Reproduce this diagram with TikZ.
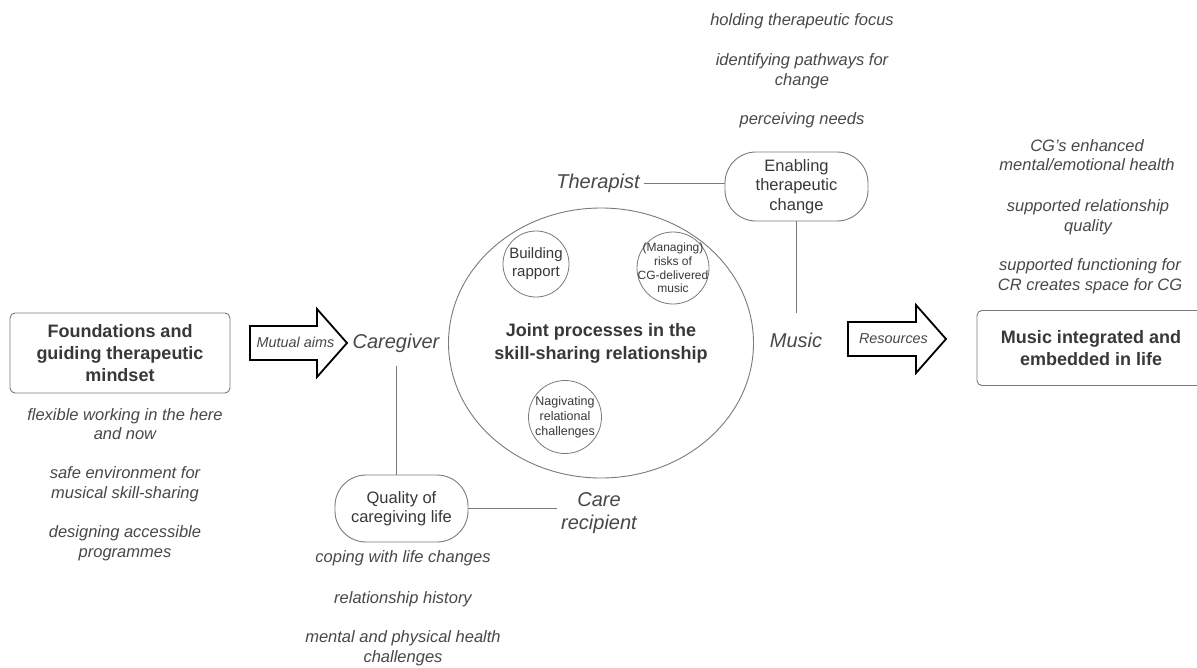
\documentclass[tikz,border=0pt]{standalone}
\usepackage{fontspec}
\setmainfont{Liberation Sans}
\usetikzlibrary{shapes.geometric}
\definecolor{txt}{HTML}{383838}
\definecolor{itx}{HTML}{484848}
\definecolor{ln}{HTML}{7A7A7A}
\begin{document}
\begin{tikzpicture}[x=1pt,y=-1pt,
 itxt/.style={font=\fontsize{16.5}{19.5}\selectfont\itshape, text=itx, align=center, inner sep=2pt},
 role/.style={font=\fontsize{20}{23.5}\selectfont\itshape, text=itx, align=center, inner sep=4pt},
 mainbox/.style={draw=ln, rounded corners=5pt, font=\fontsize{18}{22}\selectfont\bfseries, text=txt, align=center, line width=0.9pt},
 pill/.style={draw=ln, rounded corners=31pt, font=\fontsize{16.5}{19.5}\selectfont, text=txt, align=center, line width=0.9pt},
 sub/.style={draw=ln, circle, inner sep=0pt, line width=0.8pt},
 subtxt/.style={text=txt, align=center, inner sep=0pt},
 link/.style={draw=ln, line width=0.9pt},
 fat/.style={draw=black, line width=1.8pt, fill=white, line join=miter},
 arrtxt/.style={font=\fontsize{14.4}{17}\selectfont\itshape, text=itx, inner sep=1pt}
]
\useasboundingbox (0,0) rectangle (1197,667);
\fill[white] (0,0) rectangle (1197,667);

% left
\node[mainbox, minimum width=220, minimum height=80] (found) at (120,353) {Foundations and\\guiding therapeutic\\mindset};
\node[itxt] (f1) at (125,424) {flexible working in the here\\and now};
\node[itxt] (f2) at (125,484) {safe environment for\\musical skill-sharing};
\node[itxt] (f3) at (125,543) {designing accessible\\programmes};

% mutual aims arrow
\draw[fat] (250,326) -- (317,326) -- (317,309) -- (347,343) -- (317,377) -- (317,360) -- (250,360) -- cycle;
\node[arrtxt] (mutual) at (295.5,342) {Mutual aims};

\node[role] (cg) at (396,343) {Caregiver};

% central ellipse
\node[draw=ln, ellipse, minimum width=305, minimum height=270, inner sep=0pt, line width=0.9pt,
  font=\fontsize{18}{23}\selectfont\bfseries, text=txt, align=center] (joint) at (601,343)
  {Joint processes in the\\skill-sharing relationship};

\node[sub, minimum size=66] (rapport) at (536,264) {};
\node[subtxt, font=\fontsize{15}{18}\selectfont] (rapportT) at (rapport) {Building\\rapport};
\node[sub, minimum size=72] (risks) at (673,268) {};
\node[subtxt, font=\fontsize{12}{13.7}\selectfont] (risksT) at (risks) {(Managing)\\risks of\\CG-delivered\\music};
\node[sub, minimum size=73] (navig) at (565,417) {};
\node[subtxt, font=\fontsize{12.5}{15}\selectfont] (navigT) at (navig) {Nagivating\\relational\\challenges};

% therapist
\node[role] (ther) at (598,183) {Therapist};
\node[pill, minimum width=143, minimum height=69] (enab) at (796.5,186.5) {Enabling\\therapeutic\\change};
\node[itxt] (t1) at (802,21) {holding therapeutic focus};
\node[itxt] (t2) at (802,71) {identifying pathways for\\change};
\node[itxt] (t3) at (802,120) {perceiving needs};
\node[role] (music) at (796,340) {Music};

% resources arrow
\draw[fat] (848,322) -- (916,322) -- (916,305) -- (946,339) -- (916,373) -- (916,356) -- (848,356) -- cycle;
\node[arrtxt] (res) at (893.5,339) {Resources};

% right
\node[mainbox, minimum width=228, minimum height=75] (life) at (1091,348) {Music integrated and\\embedded in life};
\node[itxt] (r1) at (1087,155) {CG's enhanced\\mental/emotional health};
\node[itxt] (r2) at (1088,217) {supported relationship\\quality};
\node[itxt] (r3) at (1090,276) {supported functioning for\\CR creates space for CG};

% bottom
\node[pill, minimum width=133, minimum height=67] (qual) at (401.5,508.5) {Quality of\\caregiving life};
\node[role] (cr) at (599,513) {Care\\recipient};
\node[itxt] (b1) at (403,558) {coping with life changes};
\node[itxt] (b2) at (403,599) {relationship history};
\node[itxt] (b3) at (403,648) {mental and physical health\\challenges};

% connectors
\draw[link] ([yshift=-9pt]cg.south) -- (cg.south |- qual.north);
\draw[link] (ther.east) -- (ther.east -| enab.west);
\draw[link] (enab.south) -- ([yshift=15pt]enab.south |- music.north);
\draw[link] (qual.east) -- (qual.east -| cr.west);
\end{tikzpicture}
\end{document}
